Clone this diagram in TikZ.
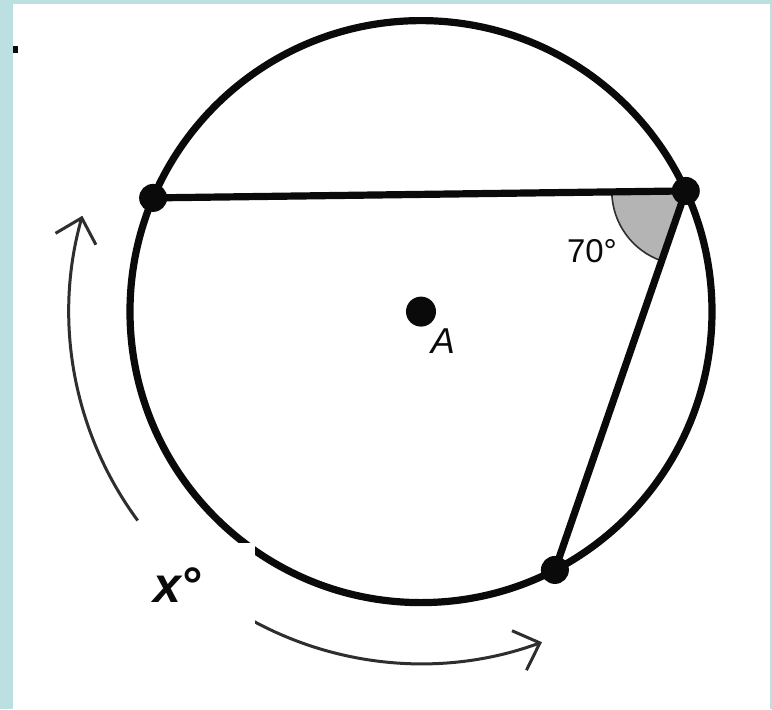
\documentclass[tikz,border=0pt]{standalone}
\usepackage{fontspec}
\setmainfont{Liberation Sans}
\usepackage{tikz}
\usetikzlibrary{arrows.meta,angles}
\definecolor{framecyan}{HTML}{BCDFE1}
\definecolor{inkblack}{HTML}{0A0A0A}
\definecolor{arrowgray}{HTML}{2E2E2E}
\definecolor{shadegray}{HTML}{B4B4B4}
\tikzset{
  rimline/.style={draw=inkblack,line width=3.6pt},
  chordline/.style={draw=inkblack,line width=3.6pt,line join=round},
  vertexdot/.style={circle,fill=inkblack,inner sep=0pt,minimum size=14pt},
  centerdot/.style={circle,fill=inkblack,inner sep=0pt,minimum size=15pt},
  arcarrow/.style={-{Straight Barb[length=11pt,width=21pt]},draw=arrowgray,line width=1.5pt},
  anglemark/.style={draw=arrowgray,line width=0.8pt,fill=shadegray,angle radius=37pt},
  labeltext/.style={font=\fontsize{16.5}{18}\selectfont,text=inkblack,inner sep=0pt},
}

\begin{document}
\begin{tikzpicture}[x=0.5pt,y=0.5pt]
  % frame
  \useasboundingbox (-421,-397.4) rectangle (351,311.6);
  \fill[framecyan] (-421,-397.4) rectangle (351,311.6);
  \fill[white] (-408,-397.4) rectangle (349,307.6);
  \fill[inkblack] (-408,265.6) rectangle (-403,258.6);

  % circle and points
  \coordinate (c) at (0,0);
  \coordinate (p1) at (157:291);
  \coordinate (p2) at (24.5:291);
  \coordinate (p3) at (297.4:291);
  \draw[rimline] (c) circle[radius=291];

  % arc arrows
  \draw[arcarrow] (c) ++(216.4:352) arc[start angle=216.4,end angle=164.2,radius=352];
  \draw[arcarrow] (c) ++(235:352) arc[start angle=235,end angle=290.1,radius=352];
  \fill[white] (-276,-231.4) rectangle (-166,-348.4);

  % inscribed angle
  \pic[anglemark] {angle=p1--p2--p3};
  \draw[chordline] (p1) -- (p2) -- (p3);
  \node[vertexdot] (P1) at (p1) {};
  \node[vertexdot] (P2) at (p2) {};
  \node[vertexdot] (P3) at (p3) {};
  \node[centerdot] (A) at (c) {};

  % labels
  \node[labeltext] (lbl70) at (171,60.6) {70°};
  \node[labeltext,font=\fontsize{18}{20}\selectfont\itshape] (lblA) at (22,-29.4) {A};
  \node[labeltext,font=\fontsize{25}{28}\selectfont\bfseries\itshape] (lblx) at (-244,-273.4) {x°};
\end{tikzpicture}
\end{document}
